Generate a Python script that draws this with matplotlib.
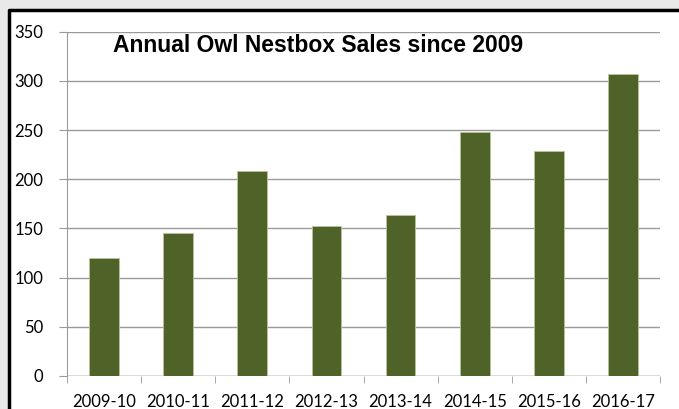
import matplotlib
matplotlib.use("Agg")
import matplotlib.pyplot as plt
from matplotlib.patches import Rectangle
from matplotlib.lines import Line2D
import numpy as np

seasons = ["2009-10", "2010-11", "2011-12", "2012-13", "2013-14", "2014-15", "2015-16", "2016-17"]
sales = [120, 145, 208, 152, 164, 248, 229, 307]
yticks = [0, 50, 100, 150, 200, 250, 300, 350]

plt.rcParams['font.family'] = ['Lato', 'DejaVu Sans']

fig = plt.figure(figsize=(6.79, 4.09), dpi=100, facecolor="#e9e9e9")

# white chart area, black frame on top and left (rest runs off the picture)
fx, fy = 9 / 679, 1 - 10 / 409
fig.patches.append(Rectangle((fx, 0), 1 - fx, fy, transform=fig.transFigure,
                             facecolor="white", edgecolor="none", zorder=-10))
fig.lines.append(Line2D([fx, fx, 1.05], [-0.05, fy, fy], transform=fig.transFigure,
                        color="black", linewidth=2.5, zorder=-9))

ax = fig.add_axes([67 / 679, 1 - 376 / 409, (660 - 67) / 679, (376 - 31.7) / 409])
ax.set_facecolor("none")

x = np.arange(len(seasons))
ax.bar(x, sales, width=0.4, color="#4f6228", edgecolor="#b8c49a", linewidth=0.6, zorder=3)

ax.set_xlim(-0.5, len(seasons) - 0.5)
ax.set_ylim(0, 350)
ax.set_yticks(yticks)
ax.yaxis.grid(True, color="#9a9a9a", linewidth=1.0, zorder=1)
ax.set_axisbelow(True)
ax.set_xticks(x)
ax.set_xticklabels(seasons)
ax.set_xticks(np.arange(len(seasons) + 1) - 0.5, minor=True)

for s in ["top", "right", "bottom"]:
    ax.spines[s].set_visible(False)
ax.spines["left"].set_color("#9a9a9a")
ax.axhline(0, color="#9a9a9a", linewidth=1.0, zorder=2)

ax.tick_params(axis="y", length=6, color="#9a9a9a", pad=11, labelsize=12)
ax.tick_params(axis="x", which="major", length=0, pad=13, labelsize=12)
ax.tick_params(axis="x", which="minor", length=5, color="#9a9a9a")

ax.text((318 - 67) / 593, 336, "Annual Owl Nestbox Sales since 2009", transform=ax.get_yaxis_transform(),
        ha="center", va="center", fontsize=16.5, fontweight="bold",
        family=["Liberation Sans", "DejaVu Sans"])

fig.savefig("out.png", dpi=100, facecolor=fig.get_facecolor())
